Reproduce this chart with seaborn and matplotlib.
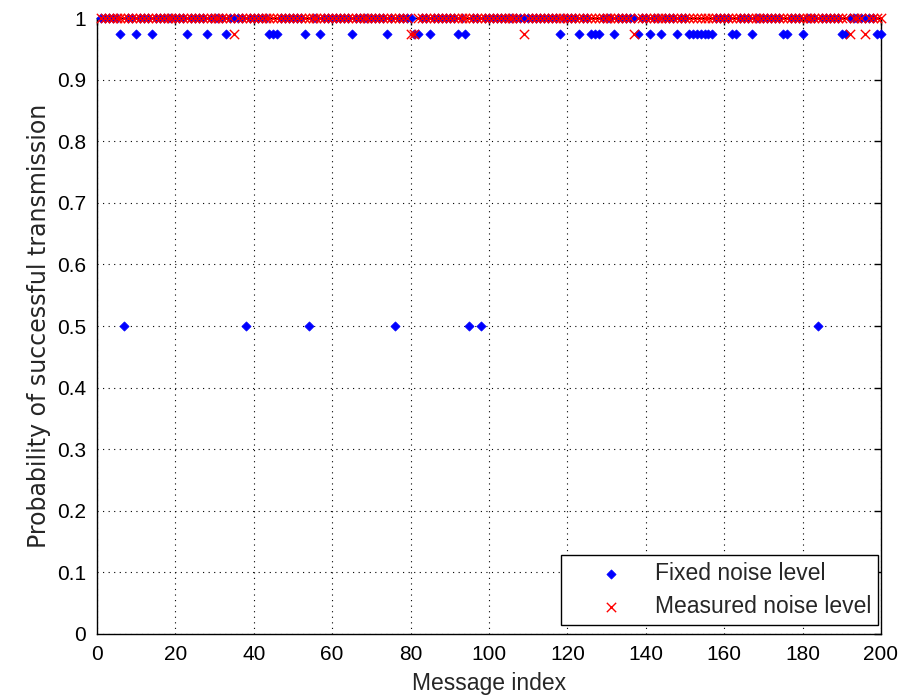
import numpy as np
import pandas as pd
import matplotlib
matplotlib.use('Agg')
import matplotlib.pyplot as plt
import seaborn as sns

sns.set_style('white')
plt.rcParams['font.family'] = ['Liberation Sans', 'DejaVu Sans']

# message index 1..200, probability is 1 except at the indices below
msg_index = np.arange(1, 201)

# fixed noise level: messages that dropped to 0.975 or 0.5
fixed_at_0975 = [6, 10, 14, 23, 28, 33, 44, 45, 46, 53, 57, 65, 74, 81, 82, 85,
                 92, 94, 118, 123, 126, 127, 128, 132, 138, 141, 144, 148,
                 151, 152, 153, 154, 155, 156, 157, 162, 163, 167, 175, 176,
                 180, 190, 191, 199, 200]
fixed_at_05 = [7, 38, 54, 76, 95, 98, 184]

# measured noise level: messages that dropped to 0.975
measured_at_0975 = [35, 80, 81, 109, 137, 192, 196]

fixed_prob = np.ones(len(msg_index))
fixed_prob[np.isin(msg_index, fixed_at_0975)] = 0.975
fixed_prob[np.isin(msg_index, fixed_at_05)] = 0.5

measured_prob = np.ones(len(msg_index))
measured_prob[np.isin(msg_index, measured_at_0975)] = 0.975

df_fixed = pd.DataFrame({'idx': msg_index, 'p': fixed_prob})
df_meas = pd.DataFrame({'idx': msg_index, 'p': measured_prob})

fig = plt.figure(figsize=(9.02, 6.97), dpi=100)
ax = fig.add_axes([0.1075, 0.0904, 0.8692, 0.8836])

sns.scatterplot(data=df_fixed, x='idx', y='p', ax=ax, marker='D', s=22,
                color='#0000ff', edgecolor='#0000ff', linewidth=0.5,
                label='Fixed noise level', clip_on=False, zorder=3)
sns.scatterplot(data=df_meas, x='idx', y='p', ax=ax, marker='x', s=45,
                color='#ff0000', linewidth=1.0,
                label='Measured noise level', clip_on=False, zorder=4)

ax.set_xlim(0, 200)
ax.set_ylim(0, 1)
ax.set_xticks(np.arange(0, 201, 20))
ax.set_yticks(np.arange(0, 1.01, 0.1))
ax.set_yticklabels(['%g' % round(v, 1) for v in np.arange(0, 1.01, 0.1)])

ax.grid(True, color='black', linestyle=(0, (1, 4)), linewidth=0.8)
ax.tick_params(direction='in', length=5, width=1, top=True, right=True,
               labelsize=15, colors='black', pad=8)
for sp in ax.spines.values():
    sp.set_color('black')
    sp.set_linewidth(1)

ax.set_xlabel('Message index', fontsize=16.5, labelpad=6)
ax.set_ylabel('Probability of successful transmission', fontsize=17,
              family=['DejaVu Sans'], labelpad=4)

leg = ax.legend(loc='lower right', bbox_to_anchor=(0.9962, 0.0146),
                fontsize=16.5, frameon=True, fancybox=False,
                edgecolor='black', framealpha=1, borderpad=0.3,
                handlelength=3.8, handletextpad=0.0, labelspacing=0.45,
                borderaxespad=0)
leg.get_frame().set_linewidth(1)

fig.savefig('out.png', dpi=100)
